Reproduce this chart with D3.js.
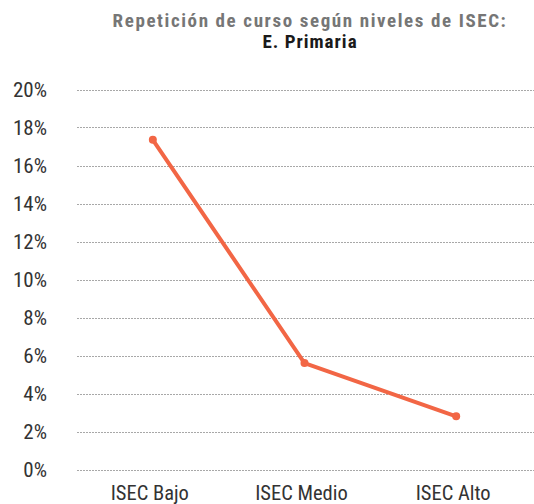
<!DOCTYPE html>
<html>
<head>
<meta charset="utf-8">
<script src="https://cdn.jsdelivr.net/npm/d3@7"></script>
<style>
  body { margin: 0; background: #fff; }
  svg text { font-family: "Liberation Sans Narrow", "Roboto Condensed", Roboto, sans-serif; }
</style>
</head>
<body>
<div id="chart"></div>
<script>
const categories = ["ISEC Bajo", "ISEC Medio", "ISEC Alto"]
const values = [17.35, 5.6, 2.8]
const yTicks = [0, 2, 4, 6, 8, 10, 12, 14, 16, 18, 20]
const titleLines = ["Repetición de curso según niveles de ISEC:", "E. Primaria"]

const width = 534, height = 504
const margin = {top: 89.5, right: 0, bottom: 34.5, left: 77}

const svg = d3.select("#chart").append("svg")
    .attr("width", width).attr("height", height)

const x = d3.scalePoint()
    .domain(categories)
    .range([margin.left, 532])
    .padding(0.5)

const y = d3.scaleLinear()
    .domain([0, 20])
    .range([height - margin.bottom, margin.top])

// gridlines
svg.append("g")
    .attr("stroke", "#a8a8a8")
    .attr("stroke-width", 1)
    .attr("stroke-dasharray", "2,1")
  .selectAll("line")
  .data(yTicks)
  .enter().append("line")
    .attr("x1", margin.left)
    .attr("x2", width)
    .attr("y1", d => Math.round(y(d)) + 0.5)
    .attr("y2", d => Math.round(y(d)) + 0.5)

// y labels
svg.append("g")
  .selectAll("text")
  .data(yTicks)
  .enter().append("text")
    .attr("x", 47)
    .attr("y", d => y(d))
    .attr("dy", "0.36em")
    .attr("text-anchor", "end")
    .attr("fill", "#333")
    .attr("font-size", 21)
    .text(d => d + "%")

// x labels
svg.append("g")
  .selectAll("text")
  .data(categories)
  .enter().append("text")
    .attr("x", d => x(d) - 3)
    .attr("y", 500)
    .attr("text-anchor", "middle")
    .attr("fill", "#333")
    .attr("font-size", 20.5)
    .text(d => d)

const data = categories.map((c, i) => ({c, v: values[i]}))

svg.append("path")
    .datum(data)
    .attr("fill", "none")
    .attr("stroke", "#f26645")
    .attr("stroke-width", 4)
    .attr("stroke-linejoin", "round")
    .attr("d", d3.line().x(d => x(d.c)).y(d => y(d.v)))

svg.append("g")
    .attr("fill", "#f26645")
  .selectAll("circle")
  .data(data)
  .enter().append("circle")
    .attr("cx", d => x(d.c))
    .attr("cy", d => y(d.v))
    .attr("r", 4)

// title
svg.append("text")
    .attr("x", 310)
    .attr("y", 27)
    .attr("text-anchor", "middle")
    .attr("font-size", 19)
    .attr("font-weight", "bold")
    .attr("letter-spacing", 1.6)
    .attr("fill", "#767676")
    .text(titleLines[0])

svg.append("text")
    .attr("x", 310)
    .attr("y", 48)
    .attr("text-anchor", "middle")
    .attr("font-size", 19)
    .attr("font-weight", "bold")
    .attr("letter-spacing", 1)
    .attr("fill", "#1a1a1a")
    .text(titleLines[1])
</script>
</body>
</html>
